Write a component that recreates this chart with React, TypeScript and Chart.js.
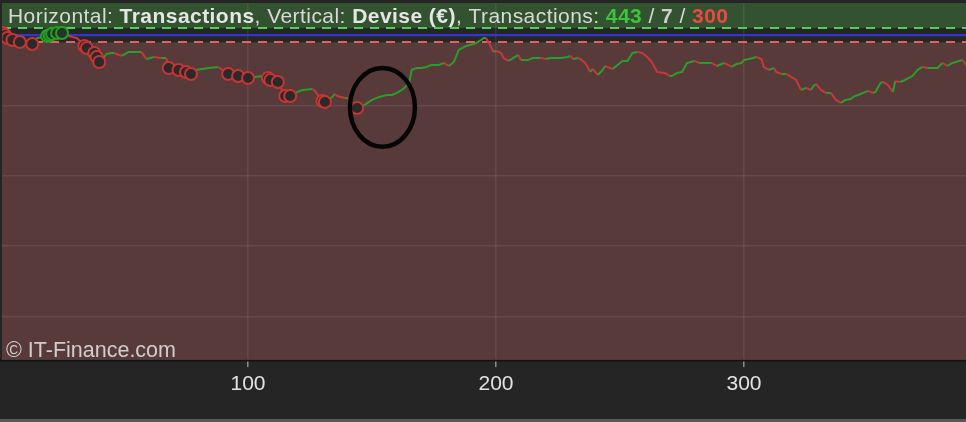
import React, { useEffect, useRef } from "react";
import { Chart, registerables } from "chart.js";

Chart.register(...registerables);

// ---- data ----
const TRADE_INDEX = [
  1, 3, 5, 8, 13, 15, 18, 20, 21, 23, 25, 29, 31, 33, 34, 35, 38, 39, 40, 42,
  43, 45, 46, 48, 49, 52, 55, 57, 59, 62, 65, 67, 68, 72, 75, 77, 79, 84, 88, 92,
  96, 100, 103, 106, 108, 109, 112, 115, 117, 120, 122, 126, 127, 129, 130, 131, 134, 135, 136, 139,
  140, 144, 147, 150, 153, 156, 158, 160, 162, 163, 165, 166, 168, 170, 172, 174, 177, 179, 181, 183,
  185, 188, 191, 192, 194, 195, 196, 198, 199, 200, 202, 203, 205, 207, 209, 210, 213, 215, 218, 220,
  222, 226, 229, 230, 231, 233, 234, 236, 238, 239, 241, 243, 244, 246, 247, 249, 251, 253, 255, 257,
  259, 261, 263, 265, 268, 270, 271, 273, 275, 277, 280, 282, 285, 287, 289, 292, 295, 297, 299, 300,
  302, 305, 307, 308, 310, 312, 313, 315, 317, 319, 321, 323, 325, 327, 328, 329, 331, 333, 335, 337,
  339, 341, 343, 344, 347, 350, 352, 353, 355, 356, 358, 360, 361, 363, 365, 368, 370, 372, 374, 378,
  380, 382, 384, 388, 390,
];
const EQUITY = [
  10033, 9962, 9933, 9905, 9876, 9962, 9976, 10004, 10018, 10033, 10033, 9976, 9962, 9891, 9848, 9819, 9748, 9691, 9620, 9691,
  9734, 9748, 9748, 9720, 9706, 9763, 9763, 9763, 9663, 9691, 9677, 9677, 9535, 9507, 9478, 9450, 9507, 9535, 9549, 9450,
  9421, 9393, 9407, 9421, 9393, 9364, 9336, 9137, 9137, 9194, 9222, 9236, 9208, 9108, 9066, 9052, 9123, 9165, 9137, 9108,
  9108, 8966, 9009, 9080, 9123, 9151, 9151, 9180, 9222, 9251, 9322, 9507, 9535, 9535, 9549, 9578, 9578, 9606, 9563, 9620,
  9791, 9848, 9876, 9891, 9933, 9962, 9962, 9834, 9763, 9777, 9748, 9677, 9635, 9677, 9720, 9649, 9649, 9677, 9677, 9663,
  9677, 9677, 9691, 9706, 9663, 9677, 9663, 9606, 9478, 9521, 9435, 9507, 9563, 9535, 9521, 9578, 9635, 9635, 9748, 9763,
  9748, 9691, 9606, 9478, 9464, 9421, 9421, 9464, 9478, 9606, 9635, 9606, 9606, 9606, 9563, 9606, 9549, 9592, 9606, 9649,
  9663, 9691, 9663, 9549, 9507, 9535, 9478, 9450, 9450, 9407, 9364, 9222, 9251, 9222, 9279, 9307, 9222, 9180, 9180, 9080,
  9037, 9080, 9094, 9123, 9165, 9208, 9180, 9194, 9322, 9336, 9293, 9194, 9350, 9336, 9364, 9421, 9507, 9549, 9535, 9535,
  9606, 9563, 9606, 9649, 9563,
];

const LOSS_MARK_X = [1, 2, 3, 5, 8, 13, 34, 35, 38, 39, 40, 68, 72, 75, 77, 92, 96, 100, 108, 109, 112, 115, 117, 130, 131, 144];
const LOSS_MARK_Y = [10033, 10004, 9962, 9933, 9905, 9876, 9848, 9819, 9748, 9691, 9620, 9535, 9507, 9478, 9450, 9450, 9421, 9393, 9393, 9364, 9336, 9137, 9137, 9066, 9052, 8966];
const WIN_MARK_X = [19, 20, 21, 23, 25];
const WIN_MARK_Y = [9990, 10004, 10018, 10033, 10033];

const X_TICKS = [100, 200, 300];
const Y_GRID = [6000, 7000, 8000, 9000, 10000];
const X_MIN = 0.8;
const X_MAX = 389.5;
const Y_MIN = 5395;
const Y_MAX = 10459;

const START_CAPITAL = 10000;
const UPPER_LEVEL = 10100;
const LOWER_LEVEL = 9900;

const TRANSACTION_COUNTS = ["443", "7", "300"];
const TITLE_PARTS = ["Horizontal: ", "Transactions", ", Vertical: ", "Devise (€)", ", Transactions: "];
const WATERMARK = "© IT-Finance.com";

// annotation ellipse (data units)
const NOTE_CENTER = [154.2, 8975];
const NOTE_RADII = [13.1, 561];

// ---- styles ----
const FONT = "'Liberation Sans', Arial, Helvetica, sans-serif";
const UP = "#2a9d2a";
const DOWN = "#c83838";

const decorPlugin = {
  id: "decor",
  beforeDraw(chart: any) {
    const { ctx, chartArea: a, scales } = chart;
    const y = scales.y;
    ctx.save();
    ctx.fillStyle = "#252525";
    ctx.fillRect(0, 0, chart.width, chart.height);
    const yUp = y.getPixelForValue(UPPER_LEVEL);
    const yLo = y.getPixelForValue(LOWER_LEVEL);
    ctx.fillStyle = "#33522f";
    ctx.fillRect(a.left, a.top, a.right - a.left, yUp - a.top);
    ctx.fillStyle = "#262626";
    ctx.fillRect(a.left, yUp, a.right - a.left, yLo - yUp);
    ctx.fillStyle = "#573a39";
    ctx.fillRect(a.left, yLo, a.right - a.left, a.bottom - yLo);
    ctx.restore();
  },
  beforeDatasetsDraw(chart: any) {
    const { ctx, chartArea: a, scales } = chart;
    const y = scales.y;
    ctx.save();
    ctx.beginPath();
    ctx.rect(a.left, a.top, a.right - a.left, a.bottom - a.top);
    ctx.clip();
    const line = (v: number, color: string, dash: number[]) => {
      const py = Math.round(y.getPixelForValue(v));
      ctx.beginPath();
      ctx.setLineDash(dash);
      ctx.strokeStyle = color;
      ctx.lineWidth = 2;
      ctx.moveTo(a.left, py);
      ctx.lineTo(a.right, py);
      ctx.stroke();
    };
    line(UPPER_LEVEL, "#4fcf4f", [9, 7]);
    line(START_CAPITAL, "#2e36d8", []);
    line(LOWER_LEVEL, "#e06262", [9, 7]);
    ctx.setLineDash([]);

    // title
    ctx.textBaseline = "alphabetic";
    const segs: [string, boolean, string][] = [
      [TITLE_PARTS[0], false, "#d9d9d9"],
      [TITLE_PARTS[1], true, "#e6e6e6"],
      [TITLE_PARTS[2], false, "#d9d9d9"],
      [TITLE_PARTS[3], true, "#e6e6e6"],
      [TITLE_PARTS[4], false, "#d9d9d9"],
      [TRANSACTION_COUNTS[0], true, "#3cc43c"],
      [" / ", false, "#d9d9d9"],
      [TRANSACTION_COUNTS[1], true, "#cfcfcf"],
      [" / ", false, "#d9d9d9"],
      [TRANSACTION_COUNTS[2], true, "#f04646"],
    ];
    (ctx as any).letterSpacing = "0.45px";
    let x = a.left + 6;
    for (const [t, bold, c] of segs) {
      ctx.font = `${bold ? "bold " : ""}21px ${FONT}`;
      ctx.fillStyle = c;
      ctx.fillText(t, x, a.top + 19.5);
      x += ctx.measureText(t).width;
    }
    (ctx as any).letterSpacing = "0px";

    // watermark
    ctx.font = `21.5px ${FONT}`;
    ctx.fillStyle = "rgba(222,222,222,0.9)";
    ctx.fillText(WATERMARK, a.left + 4, a.bottom - 2);
    ctx.restore();
  },
  afterDatasetsDraw(chart: any) {
    const { ctx, scales } = chart;
    const cx = scales.x.getPixelForValue(NOTE_CENTER[0]);
    const cy = scales.y.getPixelForValue(NOTE_CENTER[1]);
    const rx = Math.abs(scales.x.getPixelForValue(NOTE_CENTER[0] + NOTE_RADII[0]) - cx);
    const ry = Math.abs(scales.y.getPixelForValue(NOTE_CENTER[1] + NOTE_RADII[1]) - cy);
    ctx.save();
    ctx.beginPath();
    ctx.ellipse(cx, cy, rx, ry, 0, 0, Math.PI * 2);
    ctx.strokeStyle = "#050505";
    ctx.lineWidth = 4.5;
    ctx.stroke();
    ctx.restore();
  },
  afterDraw(chart: any) {
    const { ctx, chartArea: a } = chart;
    ctx.save();
    ctx.fillStyle = "#141414";
    ctx.fillRect(0, a.bottom + 0.5, chart.width, 2);
    ctx.fillStyle = "#575757";
    ctx.fillRect(0, chart.height - 3, chart.width, 3);
    ctx.restore();
  },
};

export default function App() {
  const ref = useRef<HTMLCanvasElement>(null);
  useEffect(() => {
    Chart.defaults.font.family = FONT;
    const lineData = TRADE_INDEX.map((x, i) => ({ x, y: EQUITY[i] }));
    const lossData = LOSS_MARK_X.map((x, i) => ({ x, y: LOSS_MARK_Y[i] }));
    const winData = WIN_MARK_X.map((x, i) => ({ x, y: WIN_MARK_Y[i] }));
    const chart = new Chart(ref.current as HTMLCanvasElement, {
      type: "line",
      data: {
        datasets: [
          {
            type: "scatter",
            data: lossData,
            pointRadius: 6,
            pointBorderWidth: 2,
            pointBackgroundColor: "#2a2a2a",
            pointBorderColor: "#c83434",
            showLine: false,
            order: 0,
          } as any,
          {
            type: "scatter",
            data: winData,
            pointRadius: 6,
            pointBorderWidth: 2,
            pointBackgroundColor: "#26352a",
            pointBorderColor: "#22a022",
            showLine: false,
            order: 0,
          } as any,
          {
            type: "line",
            data: lineData,
            borderWidth: 2,
            pointRadius: 0,
            tension: 0,
            borderColor: UP,
            borderJoinStyle: "round",
            segment: {
              borderColor: (c: any) => (c.p1.parsed.y >= c.p0.parsed.y ? UP : DOWN),
            },
            order: 1,
          } as any,
        ],
      },
      options: {
        animation: false,
        responsive: false,
        events: [],
        layout: { autoPadding: false, padding: { left: 2, top: 3, right: 0, bottom: 0 } },
        plugins: { legend: { display: false }, tooltip: { enabled: false }, title: { display: false } },
        scales: {
          x: {
            type: "linear",
            min: X_MIN,
            max: X_MAX,
            afterBuildTicks: (s: any) => {
              s.ticks = X_TICKS.map((v) => ({ value: v }));
            },
            afterFit: (s: any) => {
              s.height = 63;
            },
            grid: {
              color: "rgba(255,255,255,0.08)",
              lineWidth: 1.5,
              tickColor: "#8c8c8c",
              tickLength: 8,
              tickWidth: 1.5,
            },
            border: { display: true, color: "#84605d", width: 1 },
            ticks: { color: "#e2e2e2", font: { size: 21 }, padding: 5, maxRotation: 0, autoSkip: false },
          },
          y: {
            type: "linear",
            min: Y_MIN,
            max: Y_MAX,
            afterBuildTicks: (s: any) => {
              s.ticks = Y_GRID.map((v) => ({ value: v }));
            },
            afterFit: (s: any) => {
              s.width = 0;
            },
            grid: { color: "rgba(255,255,255,0.08)", lineWidth: 1.5, drawTicks: false },
            border: { display: false },
            ticks: { display: false },
          },
        },
      } as any,
      plugins: [decorPlugin],
    });
    return () => chart.destroy();
  }, []);
  return (
    <div style={{ position: "fixed", left: 0, top: 0, width: 966, height: 422, background: "#252525" }}>
      <canvas ref={ref} width={966} height={422} style={{ display: "block", width: 966, height: 422 }} />
    </div>
  );
}
